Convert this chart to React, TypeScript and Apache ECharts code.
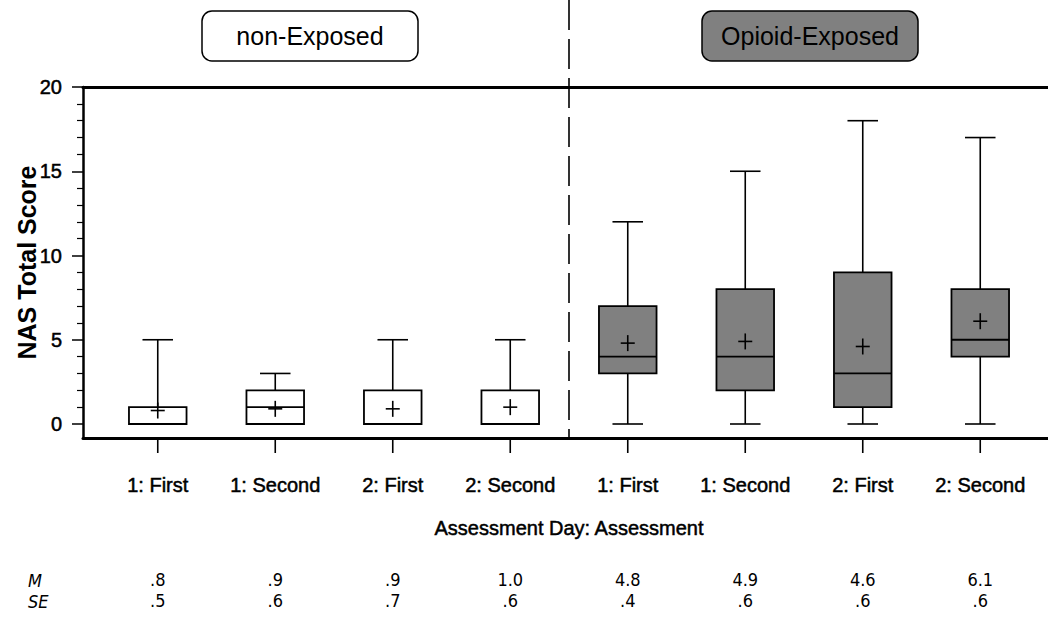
import React, { useEffect, useRef } from "react";
import * as echarts from "echarts";

const categories = ["1: First", "1: Second", "2: First", "2: Second", "1: First", "1: Second", "2: First", "2: Second"];
const groupOf = ["non", "non", "non", "non", "opioid", "opioid", "opioid", "opioid"];
const minV = [0, 0, 0, 0, 0, 0, 0, 0];
const q1V = [0, 0, 0, 0, 3, 2, 1, 4];
const medV = [0, 1, 0, 0, 4, 4, 3, 5];
const q3V = [1, 2, 2, 2, 7, 8, 9, 8];
const maxV = [5, 3, 5, 5, 12, 15, 18, 17];
const meanV = [0.8, 0.9, 0.9, 1.0, 4.8, 4.9, 4.6, 6.1];
const seV = [0.5, 0.6, 0.7, 0.6, 0.4, 0.6, 0.6, 0.6];
const panelTitles = ["non-Exposed", "Opioid-Exposed"];

const SANS = "'Liberation Sans', Arial, sans-serif";
const NARROW = "'Liberation Sans Narrow', 'DejaVu Sans Condensed', sans-serif";

const fmt = (v: number) => v.toFixed(1).replace(/^0\./, ".");

export default function App() {
  const ref = useRef<HTMLDivElement>(null);
  useEffect(() => {
    if (!ref.current) return;
    const chart = echarts.init(ref.current, null, { renderer: "svg" });
    const data = categories.map((_, i) => [i, minV[i], q1V[i], medV[i], q3V[i], maxV[i], meanV[i]]);
    const AXIS_OFFSET = 14;

    const renderItem = (params: any, api: any) => {
      const i = api.value(0);
      const band = api.size([1, 0])[0];
      const bh = band * 0.245;
      const ch = band * 0.13;
      const x = api.coord([i, 0])[0];
      const y = (v: number) => api.coord([i, v])[1];
      const yMin = y(api.value(1));
      const yQ1 = y(api.value(2));
      const yMed = y(api.value(3));
      const yQ3 = y(api.value(4));
      const yMax = y(api.value(5));
      const yMean = y(api.value(6));
      const fill = groupOf[params.dataIndex] === "opioid" ? "#808080" : "#ffffff";
      const ls = { stroke: "#000", lineWidth: 1.6 };
      return {
        type: "group",
        children: [
          { type: "line", shape: { x1: x, y1: yQ3, x2: x, y2: yMax }, style: ls },
          { type: "line", shape: { x1: x, y1: yQ1, x2: x, y2: yMin }, style: ls },
          { type: "line", shape: { x1: x - ch, y1: yMax, x2: x + ch, y2: yMax }, style: ls },
          { type: "line", shape: { x1: x - ch, y1: yMin, x2: x + ch, y2: yMin }, style: ls },
          { type: "rect", shape: { x: x - bh, y: yQ3, width: bh * 2, height: yQ1 - yQ3 }, style: { fill, stroke: "#000", lineWidth: 1.8 } },
          { type: "line", shape: { x1: x - bh, y1: yMed, x2: x + bh, y2: yMed }, style: { stroke: "#000", lineWidth: 1.8 } },
          { type: "line", shape: { x1: x - 7, y1: yMean, x2: x + 7, y2: yMean }, style: ls },
          { type: "line", shape: { x1: x, y1: yMean - 8, x2: x, y2: yMean + 8 }, style: ls },
        ],
      };
    };

    const heavy = { textBorderColor: "#000", textBorderWidth: 0.5 };
    const gridTop = 87;
    const option: any = {
      animation: false,
      backgroundColor: "#ffffff",
      grid: [
        { left: 99, right: 9, top: gridTop, bottom: 196 },
        { left: 83, right: 0, top: gridTop, bottom: 182 },
      ],
      xAxis: [
        {
          type: "category", gridIndex: 0, position: "bottom", offset: AXIS_OFFSET, data: categories,
          axisLine: { show: false, onZero: false },
          axisTick: { show: false },
          axisLabel: { interval: 0, margin: 37, color: "#000", fontSize: 20, fontFamily: SANS, verticalAlign: "top", ...heavy },
          name: "Assessment Day: Assessment", nameLocation: "middle", nameGap: 80,
          nameTextStyle: { color: "#000", fontSize: 20, fontFamily: SANS, verticalAlign: "top", ...heavy },
        },
        {
          type: "category", gridIndex: 0, position: "bottom", offset: AXIS_OFFSET, data: categories,
          axisLine: { show: false, onZero: false }, axisTick: { show: false },
          axisLabel: { interval: 0, margin: 132, color: "#000", fontSize: 18, lineHeight: 18, fontFamily: NARROW, verticalAlign: "top",
            formatter: (_v: string, idx: number) => fmt(meanV[idx]) },
        },
        {
          type: "category", gridIndex: 0, position: "bottom", offset: AXIS_OFFSET, data: categories,
          axisLine: { show: false, onZero: false }, axisTick: { show: false },
          axisLabel: { interval: 0, margin: 153, color: "#000", fontSize: 18, lineHeight: 18, fontFamily: NARROW, verticalAlign: "top",
            formatter: (_v: string, idx: number) => fmt(seV[idx]) },
        },
        {
          type: "value", gridIndex: 1, position: "bottom", min: 0, max: 1,
          axisLine: { show: true, onZero: false, lineStyle: { color: "#000", width: 3 } },
          axisTick: { show: false }, axisLabel: { show: false }, splitLine: { show: false },
        },
        {
          type: "value", gridIndex: 1, position: "top", min: 0, max: 1,
          axisLine: { show: true, onZero: false, lineStyle: { color: "#000", width: 3 } },
          axisTick: { show: false }, axisLabel: { show: false }, splitLine: { show: false },
        },
      ],
      yAxis: [
        {
          type: "value", gridIndex: 0, min: 0, max: 20, interval: 5, offset: 16,
          axisLine: { show: false },
          axisTick: { show: true, length: 11, lineStyle: { color: "#000", width: 1.5 } },
          minorTick: { show: true, splitNumber: 5, length: 6, lineStyle: { color: "#000", width: 1.2 } },
          splitLine: { show: false },
          axisLabel: { margin: 21, color: "#000", fontSize: 20, fontFamily: SANS, ...heavy },
        },
        {
          type: "value", gridIndex: 1, min: 0, max: 1,
          axisLine: { show: true, lineStyle: { color: "#000", width: 2.5 } },
          axisTick: { show: false }, axisLabel: { show: false }, splitLine: { show: false },
          name: "NAS Total Score", nameLocation: "middle", nameGap: 44, nameRotate: 90,
          nameTextStyle: { color: "#000", fontSize: 25, fontWeight: "bold", fontFamily: SANS },
        },
      ],
      series: [
        {
          type: "custom", xAxisIndex: 0, yAxisIndex: 0, renderItem, data, clip: false,
          encode: { x: 0, y: [1, 2, 3, 4, 5, 6] },
        },
      ],
    };
    chart.setOption(option);

    const xs = categories.map((_, i) => Number(chart.convertToPixel({ xAxisIndex: 0 }, i)));
    const mid = (xs[3] + xs[4]) / 2;
    const yBottom = Number(chart.convertToPixel({ yAxisIndex: 1 }, 0));

    const titleBox = (cx: number, text: string, fill: string) => ({
      type: "group",
      children: [
        { type: "rect", shape: { x: cx - 108, y: 11, width: 216, height: 50, r: 10 }, style: { fill, stroke: "#000", lineWidth: 1.5 } },
        { type: "text", x: cx, y: 36, style: { text, fill: "#000", font: `25px ${SANS}`, align: "center", verticalAlign: "middle" } },
      ],
    });

    const ticks = xs.map((x, i) => ({
      type: "rect", id: "tick" + i, z: 100,
      shape: { x: x - 0.8, y: yBottom, width: 1.6, height: 15 },
      style: { fill: "#000" },
    }));

    chart.setOption({
      graphic: [
        { type: "line", id: "divider", shape: { x1: mid, y1: 0, x2: mid, y2: yBottom }, style: { stroke: "#000", lineWidth: 1.6, lineDash: [30, 9] } },
        titleBox(310, panelTitles[0], "#ffffff"),
        titleBox(810, panelTitles[1], "#808080"),
        { type: "text", x: 28, y: 580, style: { text: "M", fill: "#000", font: `italic 18px ${NARROW}`, lineHeight: 18, verticalAlign: "middle" } },
        { type: "text", x: 28, y: 601, style: { text: "SE", fill: "#000", font: `italic 18px ${NARROW}`, lineHeight: 18, verticalAlign: "middle" } },
        ...ticks,
      ],
    });

    return () => chart.dispose();
  }, []);
  return <div ref={ref} style={{ position: "fixed", left: 0, top: 0, width: 1048, height: 620 }} />;
}
